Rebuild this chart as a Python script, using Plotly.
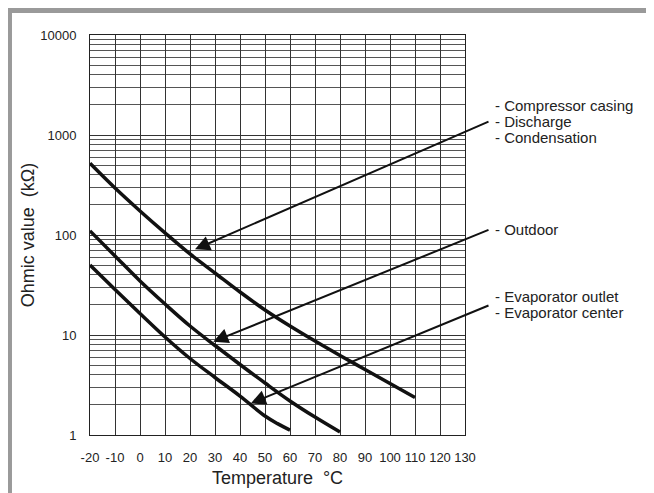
import math
import plotly.graph_objects as go

# ---- data ----
temps_comp = [-20, -10, 0, 10, 20, 30, 40, 50, 60, 70, 80, 90, 100, 110]
ohm_comp = [521, 295, 174, 105, 64.6, 41.7, 26.9, 17.8, 12.3, 8.7, 6.24, 4.52, 3.27, 2.37]

temps_out = [-20, -10, 0, 10, 20, 30, 40, 50, 60, 70, 80]
ohm_out = [110, 61.7, 34.7, 20.4, 12.3, 7.85, 5.07, 3.31, 2.19, 1.51, 1.07]

temps_evap = [-20, -10, 0, 10, 20, 30, 40, 50, 55, 60]
ohm_evap = [50, 28.5, 16.4, 9.55, 5.82, 3.76, 2.45, 1.55, 1.30, 1.12]

x_ticks = [-20, -10, 0, 10, 20, 30, 40, 50, 60, 70, 80, 90, 100, 110, 120, 130]
x_ticktext = ["-20", "-10", "0", "10", "20", "30", "40", "50", "60", "70", "80",
              "90", "100", "110", "120", "130"]
y_ticks = [1, 10, 100, 1000, 10000]
y_ticktext = ["1", "10", "100", "1000", "10000"]

labels = [
    ["- Compressor casing", "- Discharge", "- Condensation"],
    ["- Outdoor"],
    ["- Evaporator outlet", "- Evaporator center"],
]
# arrow tips (temperature, ohm) near each curve, and tails at the labels
arrow_tip_t = [22, 29.3, 44.3]
arrow_tip_v = [72, 8.58, 2.07]
arrow_tail_t = [140, 140, 140]
arrow_tail_v = [1380, 114, 20]

FONT = "Liberation Sans, Arial, sans-serif"
TXT = "#222222"

minor_vals = []
for dec in [1, 10, 100, 1000]:
    for m in range(2, 10):
        minor_vals.append(dec * m)

fig = go.Figure()
for tx, vy in [(temps_comp, ohm_comp), (temps_out, ohm_out), (temps_evap, ohm_evap)]:
    fig.add_trace(go.Scatter(x=tx, y=vy, mode="lines",
                             line=dict(color="#111111", width=3.5, shape="spline", smoothing=1.0),
                             showlegend=False, hoverinfo="skip"))

annotations = []
LINE_H = 16
for i in range(3):
    annotations.append(dict(
        x=arrow_tip_t[i], y=math.log10(arrow_tip_v[i]), xref="x", yref="y",
        ax=arrow_tail_t[i], ay=math.log10(arrow_tail_v[i]), axref="x", ayref="y",
        text="", showarrow=True, arrowhead=2, arrowsize=1.5, arrowwidth=2,
        arrowcolor="#111111", standoff=0))
    n = len(labels[i])
    for j, line in enumerate(labels[i]):
        annotations.append(dict(
            x=1.0747, y=math.log10(arrow_tail_v[i]), xref="paper", yref="y",
            xanchor="left", yanchor="middle",
            yshift=((n - 1) / 2 - j) * LINE_H,
            text=line, showarrow=False, align="left",
            font=dict(family=FONT, size=15, color=TXT)))

fig.update_layout(
    width=654, height=493,
    margin=dict(l=82, r=197, t=27, b=66, autoexpand=False),
    paper_bgcolor="white", plot_bgcolor="white",
    annotations=annotations,
    shapes=[dict(type="rect", xref="paper", yref="paper",
                 x0=-0.2147, x1=1.508, y0=-0.2, y1=1.06125,
                 line=dict(color="#9a9a9a", width=5), layer="below")],
    xaxis=dict(range=[-20, 130], tickvals=x_ticks, ticktext=x_ticktext, showgrid=True,
               gridcolor="#333333", gridwidth=1, zeroline=False, automargin=False,
               showline=True, linecolor="#222222", linewidth=1, mirror=True,
               ticks="", ticklabelstandoff=10,
               tickfont=dict(family=FONT, size=13, color=TXT),
               title=dict(text="Temperature  °C", standoff=7,
                          font=dict(family=FONT, size=18, color=TXT))),
    yaxis=dict(type="log", range=[0, 4], tickvals=y_ticks, ticktext=y_ticktext,
               showgrid=True, gridcolor="#333333", gridwidth=1, zeroline=False,
               automargin=False,
               showline=True, linecolor="#222222", linewidth=1, mirror=True,
               ticks="", ticklabelstandoff=10,
               tickfont=dict(family=FONT, size=13, color=TXT),
               minor=dict(tickvals=minor_vals, showgrid=True, gridcolor="#555555",
                          gridwidth=1, ticks=""),
               title=dict(text="Ohmic value  (kΩ)", standoff=0,
                          font=dict(family=FONT, size=18, color=TXT))),
)

fig.write_html("out.html")
